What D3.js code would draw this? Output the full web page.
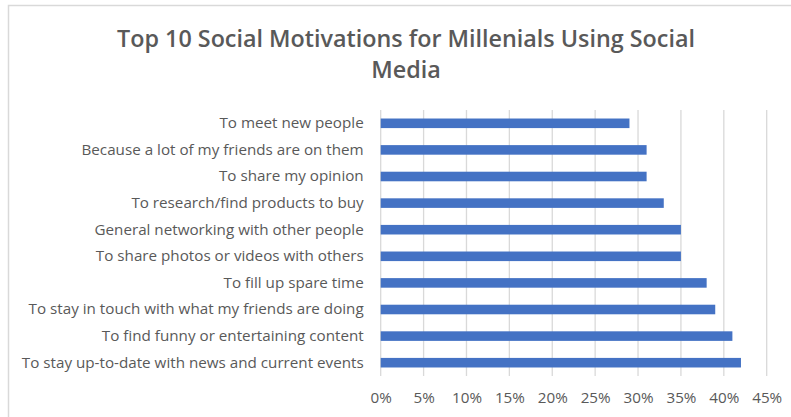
<!DOCTYPE html>
<html>
<head>
<meta charset="utf-8">
<script src="https://cdn.jsdelivr.net/npm/d3@7"></script>
<style>
  html, body { margin: 0; padding: 0; background: #ffffff; }
  svg { display: block; }
</style>
</head>
<body>
<svg id="chart" width="791" height="417"></svg>
<script>
// Survey answers, top to bottom as listed
const categories = [
  "To meet new people",
  "Because a lot of my friends are on them",
  "To share my opinion",
  "To research/find products to buy",
  "General networking with other people",
  "To share photos or videos with others",
  "To fill up spare time",
  "To stay in touch with what my friends are doing",
  "To find funny or entertaining content",
  "To stay up-to-date with news and current events"
];
const shares = [0.29, 0.31, 0.31, 0.33, 0.35, 0.35, 0.38, 0.39, 0.41, 0.42];
const tickValues = [0, 0.05, 0.10, 0.15, 0.20, 0.25, 0.30, 0.35, 0.40, 0.45];
const titleLines = ["Top 10 Social Motivations for Millenials Using Social", "Media"];

const svg = d3.select("#chart");
const W = 791, H = 417;
const FONT = "'Open Sans', 'Noto Sans', sans-serif";
const TITLE_FONT = "'Open Sans', 'Noto Sans', sans-serif";
const textColor = "#595959";

// chart frame
svg.append("rect")
  .attr("x", 8.5).attr("y", 5.5)
  .attr("width", W).attr("height", H)
  .attr("fill", "#ffffff")
  .attr("stroke", "#d9d9d9").attr("stroke-width", 1.5);

const plot = { left: 380.7, right: 766.7, top: 110, bottom: 376 };

const x = d3.scaleLinear().domain([0, 0.45]).range([plot.left, plot.right]);
const y = d3.scaleBand().domain(categories).range([plot.top, plot.bottom]).paddingInner(0.64).paddingOuter(0.32);

// vertical gridlines
svg.append("g")
  .selectAll("line")
  .data(tickValues)
  .join("line")
  .attr("x1", d => x(d)).attr("x2", d => x(d))
  .attr("y1", plot.top).attr("y2", plot.bottom)
  .attr("stroke", "#d9d9d9").attr("stroke-width", 1.3);

// bars
svg.append("g")
  .selectAll("rect")
  .data(categories)
  .join("rect")
  .attr("x", x(0))
  .attr("y", d => y(d))
  .attr("width", (d, i) => x(shares[i]) - x(0))
  .attr("height", y.bandwidth())
  .attr("fill", "#4472c4");

// category axis (labels only)
const yAxis = svg.append("g")
  .attr("transform", `translate(${plot.left},0)`)
  .call(d3.axisLeft(y).tickSize(0).tickPadding(17));
yAxis.select(".domain").remove();
yAxis.selectAll("text")
  .attr("font-family", FONT)
  .attr("font-size", 15)
  .attr("fill", textColor);

// percentage axis (labels only)
const xAxis = svg.append("g")
  .attr("transform", `translate(0,${plot.bottom})`)
  .call(d3.axisBottom(x).tickValues(tickValues).tickFormat(d3.format(".0%")).tickSize(0).tickPadding(16));
xAxis.select(".domain").remove();
xAxis.selectAll("text")
  .attr("font-family", FONT)
  .attr("font-size", 15)
  .attr("fill", textColor);

// title
const title = svg.append("text")
  .attr("x", 406)
  .attr("text-anchor", "middle")
  .attr("font-family", TITLE_FONT)
  .attr("font-weight", 600)
  .attr("font-size", 23)
  .attr("fill", textColor);
title.selectAll("tspan")
  .data(titleLines)
  .join("tspan")
  .attr("x", 406)
  .attr("y", (d, i) => 47 + i * 31)
  .text(d => d);

// scale fonts so each text block runs to its intended width
function fitFont(sel, node, target, base) {
  const w = node.getComputedTextLength();
  const size = base * target / w;
  sel.attr("font-size", size.toFixed(2));
}
const longest = yAxis.selectAll("text").filter(d => d === categories[9]);
fitFont(yAxis.selectAll("text"), longest.node(), 342, 15);
const catSize = +longest.attr("font-size");
xAxis.selectAll("text").attr("font-size", catSize);
fitFont(title, title.select("tspan").node(), 578, 23);
</script>
</body>
</html>
